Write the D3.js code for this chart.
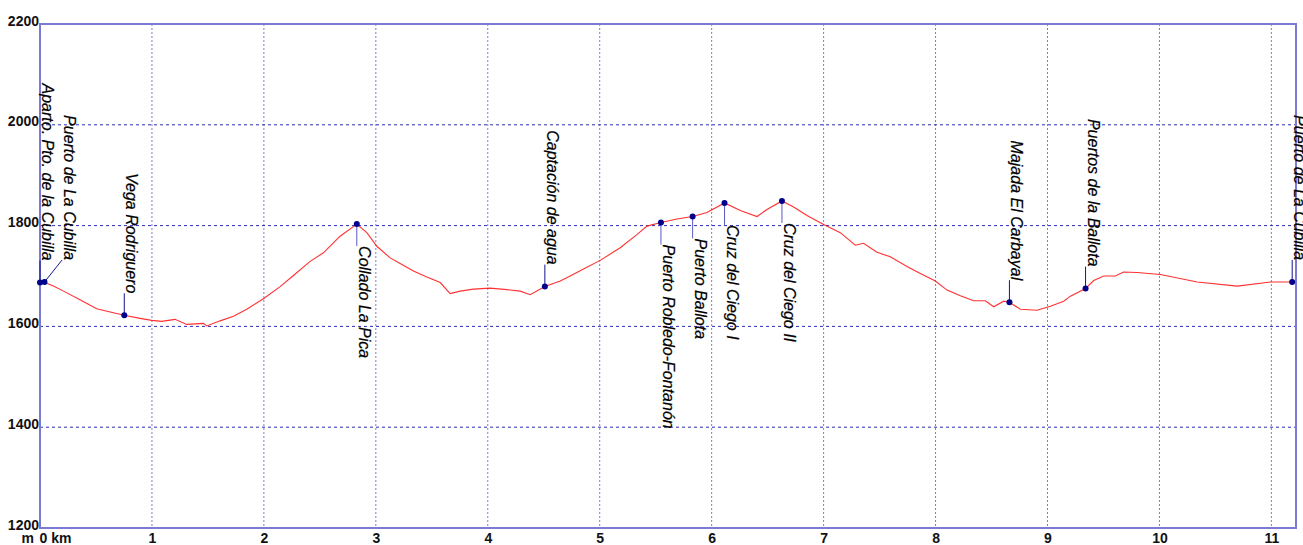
<!DOCTYPE html>
<html>
<head>
<meta charset="utf-8">
<script src="https://cdn.jsdelivr.net/npm/d3@7"></script>
<style>
  html, body { margin: 0; padding: 0; background: #fff; overflow: hidden; }
  svg { display: block; font-family: "Liberation Sans", Arial, sans-serif; }
</style>
</head>
<body>
<svg id="chart" width="1303" height="545"></svg>
<script>
// track profile, km along route / elevation in m
const profileKm = [0, 0.03, 0.12, 0.21, 0.357, 0.507, 0.655, 0.753, 0.894, 0.998, 1.087, 1.206, 1.311, 1.46, 1.49,
  1.609, 1.728, 1.847, 1.996, 2.145, 2.264, 2.413, 2.532, 2.681, 2.83, 2.92, 3.009, 3.128, 3.217, 3.336, 3.456,
  3.575, 3.664, 3.753, 3.872, 4.021, 4.171, 4.29, 4.379, 4.51, 4.647, 4.736, 4.855, 5.004, 5.183, 5.332, 5.422,
  5.547, 5.69, 5.83, 5.958, 6.115, 6.256, 6.405, 6.494, 6.628, 6.732, 6.852, 7.0, 7.149, 7.283, 7.357, 7.477,
  7.596, 7.745, 7.864, 7.998, 8.103, 8.222, 8.34, 8.445, 8.52, 8.609, 8.66, 8.758, 8.907, 9.026, 9.145, 9.205,
  9.34, 9.413, 9.503, 9.607, 9.68, 9.8, 10.009, 10.337, 10.694, 10.992, 11.186];
const profileEle = [1687, 1688, 1680, 1670, 1653, 1635, 1627, 1622, 1616, 1612, 1610, 1614, 1604, 1606, 1601,
  1611, 1620, 1634, 1655, 1679, 1701, 1729, 1746, 1779, 1803, 1786, 1759, 1736, 1725, 1710, 1698,
  1687, 1665, 1670, 1674, 1676, 1673, 1670, 1663, 1679, 1690, 1700, 1714, 1731, 1756, 1782, 1799,
  1806, 1813, 1818, 1826, 1845, 1830, 1818, 1832, 1849, 1837, 1820, 1802, 1786, 1761, 1765, 1747,
  1738, 1719, 1705, 1690, 1672, 1661, 1651, 1651, 1639, 1650, 1648, 1634, 1632, 1640, 1650, 1660,
  1675, 1691, 1700, 1700, 1708, 1707, 1703, 1688, 1680, 1688, 1688];

// waypoints
const wpNames = ["Aparto. Pto. de la Cubilla", "Puerto de La Cubilla", "Vega Rodriguero", "Collado La Pica",
  "Captación de agua", "Puerto Robledo-Fontanón", "Puerto Ballota", "Cruz del Ciego I", "Cruz del Ciego II",
  "Majada El Carbayal", "Puertos de la Ballota", "Puerto de La Cubilla"];
const wpKm = [0, 0.04, 0.753, 2.83, 4.51, 5.547, 5.83, 6.115, 6.628, 8.66, 9.34, 11.186];
const wpEle = [1687, 1688, 1622, 1803, 1679, 1806, 1818, 1845, 1849, 1648, 1675, 1688];
const wpSide = ["up", "up", "up", "down", "up", "down", "down", "down", "down", "up", "up", "up"];

// axes
const kmTicks = [0, 1, 2, 3, 4, 5, 6, 7, 8, 9, 10, 11];
const eleTicks = [1200, 1400, 1600, 1800, 2000, 2200];

const svg = d3.select("#chart");
const x = d3.scaleLinear().domain([0, 11.22]).range([40, 1296]);
const y = d3.scaleLinear().domain([1200, 2200]).range([528, 24]);

// grid
svg.append("g")
  .selectAll("line")
  .data(kmTicks.slice(1))
  .join("line")
  .attr("x1", (d) => x(d)).attr("x2", (d) => x(d))
  .attr("y1", y(2200)).attr("y2", y(1200))
  .attr("stroke", "#7c7cd4")
  .attr("stroke-dasharray", "2,2");

svg.append("g")
  .selectAll("line")
  .data(eleTicks.slice(1, -1))
  .join("line")
  .attr("x1", x(0)).attr("x2", x(11.22))
  .attr("y1", (d) => y(d)).attr("y2", (d) => y(d))
  .attr("stroke", "#2c2cb4")
  .attr("stroke-dasharray", "3,3");

// frame
svg.append("rect")
  .attr("x", x(0)).attr("y", y(2200))
  .attr("width", x(11.22) - x(0)).attr("height", y(1200) - y(2200))
  .attr("fill", "none")
  .attr("stroke", "#7b7bd6")
  .attr("stroke-width", 2);

// y axis labels
const yAxis = d3.axisLeft(y).tickValues(eleTicks).tickSize(0).tickPadding(1).tickFormat(d3.format("d"));
const gy = svg.append("g").attr("transform", `translate(${x(0)},0)`).call(yAxis);
gy.select(".domain").remove();
gy.selectAll("text")
  .attr("dy", "1px")
  .attr("font-size", 14).attr("font-weight", "bold").attr("fill", "#111")
  .attr("font-family", "Liberation Sans, Arial, sans-serif");

// x axis labels
const xAxis = d3.axisBottom(x).tickValues(kmTicks).tickSize(0).tickPadding(0)
  .tickFormat((d) => (d === 0 ? "0 km" : d));
const gx = svg.append("g").attr("transform", `translate(0,${y(1200)})`).call(xAxis);
gx.select(".domain").remove();
gx.selectAll("text")
  .attr("y", 15).attr("dy", 0)
  .attr("font-size", 14).attr("font-weight", "bold").attr("fill", "#111")
  .attr("font-family", "Liberation Sans, Arial, sans-serif");
gx.selectAll(".tick").filter((d) => d === 0).select("text")
  .attr("text-anchor", "start").attr("x", -1);
svg.append("text")
  .attr("x", x(0) - 6).attr("y", y(1200) + 15)
  .attr("text-anchor", "end")
  .attr("font-size", 14).attr("font-weight", "bold").attr("fill", "#111")
  .text("m");

// profile line
const line = d3.line().x((d, i) => x(profileKm[i])).y((d) => y(d));
svg.append("path")
  .datum(profileEle)
  .attr("d", line)
  .attr("fill", "none")
  .attr("stroke", "#ff1a1a")
  .attr("stroke-width", 1.1)
  .attr("stroke-opacity", 0.9);

// waypoint labels, spread apart when too close
const gap = 22;
let prevLx = -Infinity;
const wps = wpNames.map((name, i) => {
  const px = x(wpKm[i]), py = y(wpEle[i]);
  let lx = px;
  if (lx - prevLx < 14) lx = prevLx + 22;
  prevLx = lx;
  const ly = wpSide[i] === "up" ? py - gap : py + gap;
  return { name, px, py, lx, ly, side: wpSide[i] };
});

const gw = svg.append("g");
gw.selectAll("line")
  .data(wps)
  .join("line")
  .attr("x1", (d) => d.px).attr("y1", (d) => d.py)
  .attr("x2", (d) => d.lx).attr("y2", (d) => d.ly)
  .attr("stroke", (d) => (d.side === "up" ? "#14148c" : "#5a5ac4"))
  .attr("stroke-width", 1);

gw.selectAll("text")
  .data(wps)
  .join("text")
  .attr("transform", (d) => `translate(${d.lx + 2},${d.ly}) rotate(90)`)
  .attr("text-anchor", (d) => (d.side === "up" ? "end" : "start"))
  .attr("font-size", 16)
  .attr("font-style", "italic")
  .attr("fill", "#000")
  .attr("stroke", "#000")
  .attr("stroke-width", 0.2)
  .text((d) => d.name);

gw.selectAll("circle")
  .data(wps)
  .join("circle")
  .attr("cx", (d) => d.px).attr("cy", (d) => d.py)
  .attr("r", 3)
  .attr("fill", "#00008b");
</script>
</body>
</html>
